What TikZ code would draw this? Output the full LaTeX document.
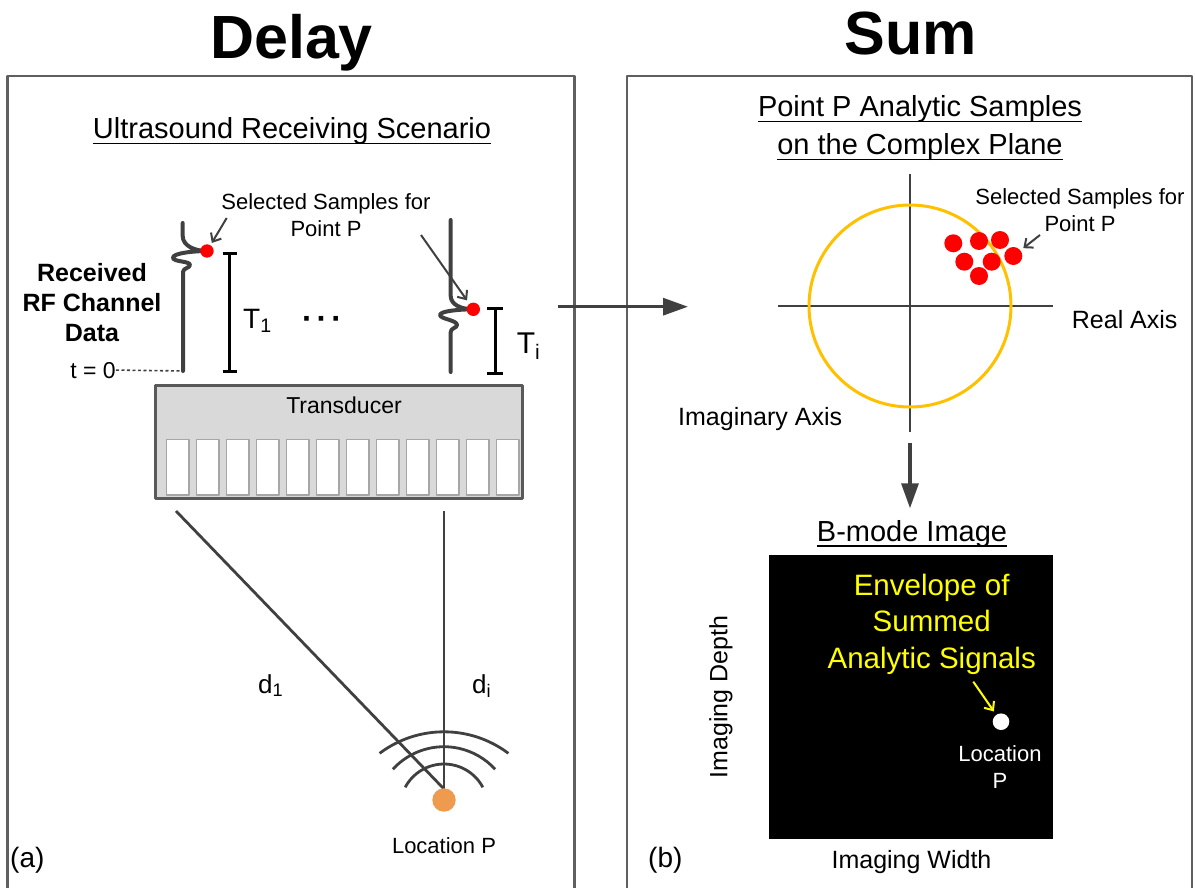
\documentclass[tikz,border=0pt]{standalone}
\usepackage{fontspec}
\setmainfont{Liberation Sans}
\usetikzlibrary{arrows.meta}

\definecolor{frame}{HTML}{5F5F5F}
\definecolor{ink}{HTML}{404040}
\definecolor{probe}{HTML}{D9D9D9}
\definecolor{probeedge}{HTML}{595959}
\definecolor{cell}{HTML}{A6A6A6}
\definecolor{ring}{HTML}{FFC000}
\definecolor{sample}{HTML}{FF0000}
\definecolor{source}{HTML}{EE9A4F}
\definecolor{note}{HTML}{FFFF00}

% underlined heading with a visible rule
\newcommand{\ulbar}[1]{\leavevmode\setbox0=\hbox{#1}\rlap{\raisebox{-5.5pt}{\rule{\wd0}{1.6pt}}}\box0}

\tikzset{
  txt/.style={inner sep=0pt},
  headfont/.style={font=\fontsize{61}{70}\selectfont\bfseries},
  subhead/.style={font=\fontsize{29}{37}\selectfont},
  small/.style={font=\fontsize{22}{27}\selectfont},
  mid/.style={font=\fontsize{25}{30}\selectfont},
  big/.style={font=\fontsize{28}{32}\selectfont},
  panelframe/.style={draw=frame, line width=2.6pt},
  trace/.style={draw=ink, line width=4pt, line cap=round, line join=round},
  wire/.style={draw=ink, line width=2.8pt},
  ticks/.style={draw=black, line width=3pt},
  pick/.style={circle, fill=sample, inner sep=0pt, minimum size=13.4pt},
  pickc/.style={circle, fill=sample, inner sep=0pt, minimum size=18pt},
  pointer/.style={draw=ink, line width=2pt, -{Straight Barb[length=7pt,width=12pt]}},
  flow/.style={draw=ink, line width=3.2pt, -{Triangle[length=25pt,width=17pt]}},
  dashline/.style={draw=ink, line width=1.6pt, dash pattern=on 3pt off 2.5pt},
}

\begin{document}
\begin{tikzpicture}[x=1pt, y=-1pt, line join=round]
\useasboundingbox (0,0) rectangle (1195,888);
\clip (0,0) rectangle (1195,888);

% ---------- titles ----------
\node[txt, headfont, anchor=base] (delay) at (291.5,59) {Delay};
\node[txt, headfont, anchor=base] (sum) at (911,55) {Sum};

% ---------- panels ----------
\draw[panelframe] (7.5,900) -- (7.5,76) -- (574.5,76) -- (574.5,900);
\draw[panelframe] (627,900) -- (627,76) -- (1192,76) -- (1192,900);

% ================= left panel: receiving scenario =================
\node[txt, subhead, anchor=base] (scen) at (292,139) {\ulbar{Ultrasound Receiving Scenario}};

\node[txt, font=\fontsize{25}{30}\selectfont\bfseries, align=center] (rf) at (92,303) {Received\\RF Channel\\Data};
\node[txt, font=\fontsize{23}{27}\selectfont, anchor=base east] (t0) at (116,378) {t = 0};
\coordinate (base1) at (183,371);
\draw[dashline] (t0.east) -- (base1);

% channel 1 trace with its selected sample
\coordinate (p1) at (207,251);
\draw[trace] (182.7,223) -- (182.7,236)
  .. controls (182.7,246) and (195,251) .. (p1)
  .. controls (195,251) and (172,253) .. (173,258)
  .. controls (174,262) and (190,261) .. (190,265)
  .. controls (190,268) and (183,268) .. (183,272) -- (base1);
\node[pick] (s1) at (p1) {};

\node[txt, small, align=center] (selL) at (326,215.5) {Selected Samples for\\Point P};
\coordinate (selL1) at (226.7,218);
\draw[pointer, shorten >=2.5pt] (selL1) -- (s1);

% delay bracket T1
\draw[ticks] (222.7,253) -- (236.7,253) (229.7,253) -- (229.7,371) (222.7,371) -- (236.7,371);
\node[txt, big, anchor=base west] (T1) at (243,328) {T\textsubscript{1}};
\node[txt, font=\fontsize{32}{36}\selectfont\bfseries, anchor=base] (ell) at (322,329) {·\kern4pt·\kern4pt·};

% channel i trace with its selected sample
\coordinate (pi) at (473.3,309.3);
\draw[trace] (450.7,220) -- (450.7,296)
  .. controls (450.7,304) and (460,309.3) .. (pi)
  .. controls (460,309.3) and (440,311) .. (440,315)
  .. controls (440,319) and (457,320) .. (457,325)
  .. controls (457,328) and (450.7,328) .. (450.7,332) -- (450.7,372);
\node[pick] (si) at (pi) {};
\coordinate (selL2) at (421,235);
\draw[pointer, shorten >=4pt] (selL2) -- (si);

% delay bracket Ti
\draw[ticks] (487,308) -- (503,308) (495,308) -- (495,373) (487,373) -- (503,373);
\node[txt, font=\fontsize{30}{34}\selectfont, anchor=base west] (Ti) at (516.7,353) {T\textsubscript{i}};

% transducer array
\node[draw=probeedge, line width=3pt, fill=probe, minimum width=366.7pt, minimum height=113.3pt, inner sep=0pt] (xdcr) at (339.3,441.7) {};
\node[txt, font=\fontsize{23}{27}\selectfont, anchor=base] (xdcrlbl) at (344,413) {Transducer};
\foreach \k in {0,...,11}
  \draw[draw=cell, line width=1.5pt, fill=white] ({166.7+30*\k},439.3) rectangle ({189+30*\k},495);

% propagation paths to the scatterer
\coordinate (e1) at (176,511);
\coordinate (ei) at (444,511);
\coordinate (Ptop) at (444,789);
\draw[wire] (e1) -- (Ptop);
\draw[wire] (ei) -- (Ptop);
\node[txt, font=\fontsize{26}{30}\selectfont, anchor=base west] (d1) at (258,693) {d\textsubscript{1}};
\node[txt, font=\fontsize{26}{30}\selectfont, anchor=base west] (di) at (472,693) {d\textsubscript{i}};

% echo wavefronts
\draw[wire] (444,838.8) ++(233:107) arc[start angle=233, end angle=307, radius=107];
\draw[wire] (444,816) ++(222.4:69.3) arc[start angle=222.4, end angle=317.6, radius=69.3];
\draw[wire] (444,808) ++(208.1:44) arc[start angle=208.1, end angle=331.9, radius=44];
\node[circle, fill=source, inner sep=0pt, minimum size=23.4pt] (locP) at (444,800) {};
\node[txt, small, anchor=base] (loclbl) at (444,853) {Location P};

\node[txt, big, anchor=base west] (pa) at (10,867) {(a)};

% ---------- delay -> sum ----------
\coordinate (fl0) at (558,306.7);
\coordinate (fl1) at (688,306.7);
\draw[flow] (fl0) -- (fl1);

% ================= right panel: complex plane =================
\node[txt, subhead, anchor=base] (ttl1) at (920,117) {\ulbar{Point P Analytic Samples}};
\node[txt, subhead, anchor=base] (ttl2) at (920,155) {\ulbar{on the Complex Plane}};

\coordinate (O) at (910,306);
\draw[wire] (778,306) -- (1053,306);
\draw[wire] (910,174) -- (910,432);
\draw[draw=ring, line width=3pt] (O) circle[radius=101];

\node[pickc] (c1) at (953.3,243.3) {};
\node[pickc] (c2) at (979,241) {};
\node[pickc] (c3) at (1000,240) {};
\node[pickc] (c4) at (964.3,261.7) {};
\node[pickc] (c5) at (991.7,261.7) {};
\node[pickc] (c6) at (1013.3,256) {};
\node[pickc] (c7) at (979,276) {};

\node[txt, small, align=center] (selR) at (1080,210) {Selected Samples for\\Point P};
\coordinate (selR1) at (1040,235);
\draw[pointer, shorten >=3.5pt] (selR1) -- (c6);

\node[txt, mid, anchor=base west] (re) at (1071.7,328) {Real Axis};
\node[txt, mid, anchor=base west] (im) at (678,425) {Imaginary Axis};

% ---------- sum -> image ----------
\coordinate (dn0) at (910,443);
\coordinate (dn1) at (910,508.3);
\draw[flow] (dn0) -- (dn1);

% B-mode image
\node[txt, subhead, anchor=base] (bm) at (912,541) {\ulbar{B-mode Image}};
\node[fill=black, inner sep=0pt, minimum size=284pt] (img) at (911.3,697) {};
\node[txt, font=\fontsize{29.5}{36.5}\selectfont, text=note, align=center] (env) at (931.7,624) {Envelope of\\Summed\\Analytic Signals};
\node[circle, fill=white, inner sep=0pt, minimum size=16.6pt] (spot) at (1001,721.7) {};
\coordinate (env1) at (973.3,681.7);
\draw[draw=note, line width=2pt, -{Straight Barb[length=7pt,width=12pt]}, shorten >=4pt] (env1) -- (spot);
\node[txt, small, text=white, align=center] (spotlbl) at (1000,767) {Location\\P};
\node[txt, mid, rotate=90] (depth) at (721,697) {Imaging Depth};
\node[txt, mid, anchor=base] (width) at (911.5,868) {Imaging Width};

\node[txt, big, anchor=base west] (pb) at (648,867) {(b)};
\end{tikzpicture}
\end{document}
